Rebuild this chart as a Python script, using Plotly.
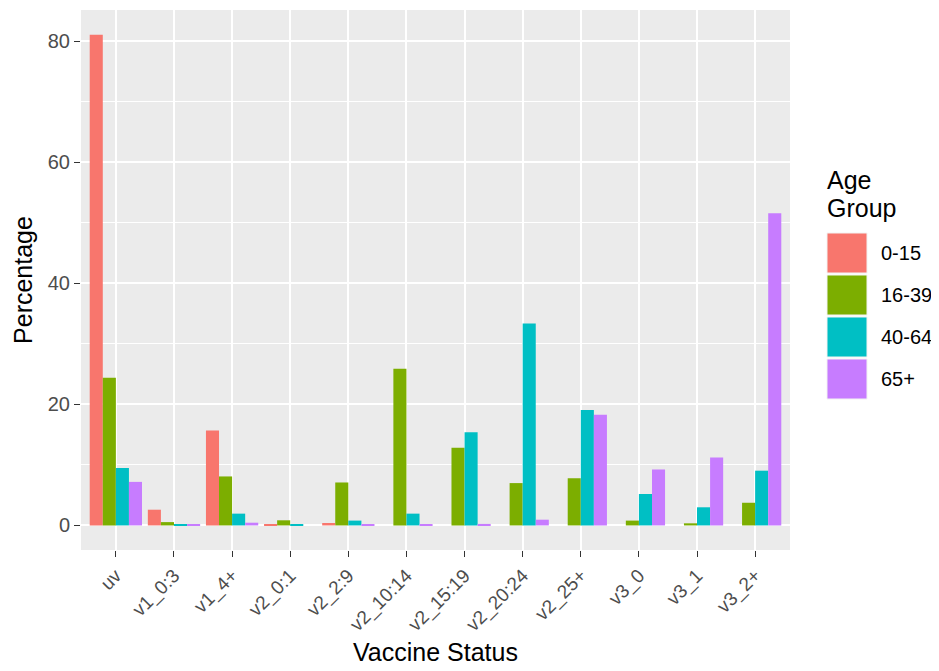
import plotly.graph_objects as go

categories = ["uv", "v1_0:3", "v1_4+", "v2_0:1", "v2_2:9", "v2_10:14", "v2_15:19",
              "v2_20:24", "v2_25+", "v3_0", "v3_1", "v3_2+"]
age_groups = ["0-15", "16-39", "40-64", "65+"]
vals_0_15 = [81.1, 2.6, 15.7, 0.1, 0.4, 0.0, 0.0, 0.0, 0.0, 0.0, 0.0, 0.0]
vals_16_39 = [24.4, 0.55, 8.1, 0.85, 7.1, 25.9, 12.85, 7.0, 7.8, 0.8, 0.35, 3.75]
vals_40_64 = [9.5, 0.1, 1.95, 0.2, 0.8, 1.95, 15.4, 33.4, 19.1, 5.2, 3.0, 9.05]
vals_65p = [7.2, 0.1, 0.45, 0.0, 0.1, 0.2, 0.25, 0.95, 18.3, 9.25, 11.25, 51.6]
series = [vals_0_15, vals_16_39, vals_40_64, vals_65p]
colors = ["#F8766D", "#7CAE00", "#00BFC4", "#C77CFF"]

FONT = "Liberation Sans"
# page has an 8px body margin; panel target in page px: x 81..790, y 10..550
W, H = 931, 663
PL, PR, PT, PB = 81, 790, 10, 550
OFF = 8

fig = go.Figure()
for name, vals, col in zip(age_groups, series, colors):
    fig.add_trace(go.Bar(x=categories, y=vals, name=name, marker_color=col,
                         marker_line_width=0, showlegend=False))

fig.update_layout(
    width=W, height=H,
    margin=dict(l=PL - OFF, r=W - (PR - OFF), t=PT - OFF, b=H - (PB - OFF)),
    paper_bgcolor="white", plot_bgcolor="#EBEBEB",
    barmode="group", bargap=0.1, bargroupgap=0,
    font=dict(family=FONT, color="#4D4D4D"),
)
fig.update_xaxes(
    type="category", range=[-0.6, 11.6], showline=False, zeroline=False,
    showgrid=True, gridcolor="white", gridwidth=1.5,
    ticks="outside", ticklen=6, tickwidth=1.3, tickcolor="#333333",
    tickangle=-45, tickfont=dict(size=19, color="#4D4D4D", family=FONT),
    title=dict(text="Vaccine Status", font=dict(size=25, color="black", family=FONT), standoff=8),
)
fig.update_yaxes(
    range=[-4.06, 85.2], showline=False, zeroline=False,
    tickvals=[0, 20, 40, 60, 80],
    showgrid=True, gridcolor="white", gridwidth=1.5,
    minor=dict(tickvals=[10, 30, 50, 70], showgrid=True, gridcolor="white", gridwidth=0.7, ticks=""),
    ticks="outside", ticklen=6, tickwidth=1.3, tickcolor="#333333",
    tickfont=dict(size=20, color="#4D4D4D", family=FONT),
    title=dict(text="Percentage", font=dict(size=25, color="black", family=FONT), standoff=8),
)

pw, ph = PR - PL, PB - PT
def px(x):
    return (x - PL) / pw
def py(y):
    return (PB - y) / ph

# legend drawn manually (ggplot-style large keys)
for line, yc in (("Age", 180), ("Group", 208)):
    fig.add_annotation(xref="paper", yref="paper", x=px(825), y=py(yc),
                       xanchor="left", yanchor="middle", align="left", showarrow=False,
                       text=line, font=dict(size=25, color="black", family=FONT))
key_top = 233
for i, (name, col) in enumerate(zip(age_groups, colors)):
    y0 = key_top + i * 42
    y1 = y0 + 40
    fig.add_shape(type="rect", xref="paper", yref="paper",
                  x0=px(827), x1=px(867), y0=py(y1), y1=py(y0),
                  fillcolor=col, line=dict(color="#F2F2F2", width=1))
    fig.add_annotation(xref="paper", yref="paper", x=px(879),
                       y=py(y0 + 20), xanchor="left", yanchor="middle",
                       showarrow=False, text=name,
                       font=dict(size=20, color="black", family=FONT))

fig.write_html("out.html")
